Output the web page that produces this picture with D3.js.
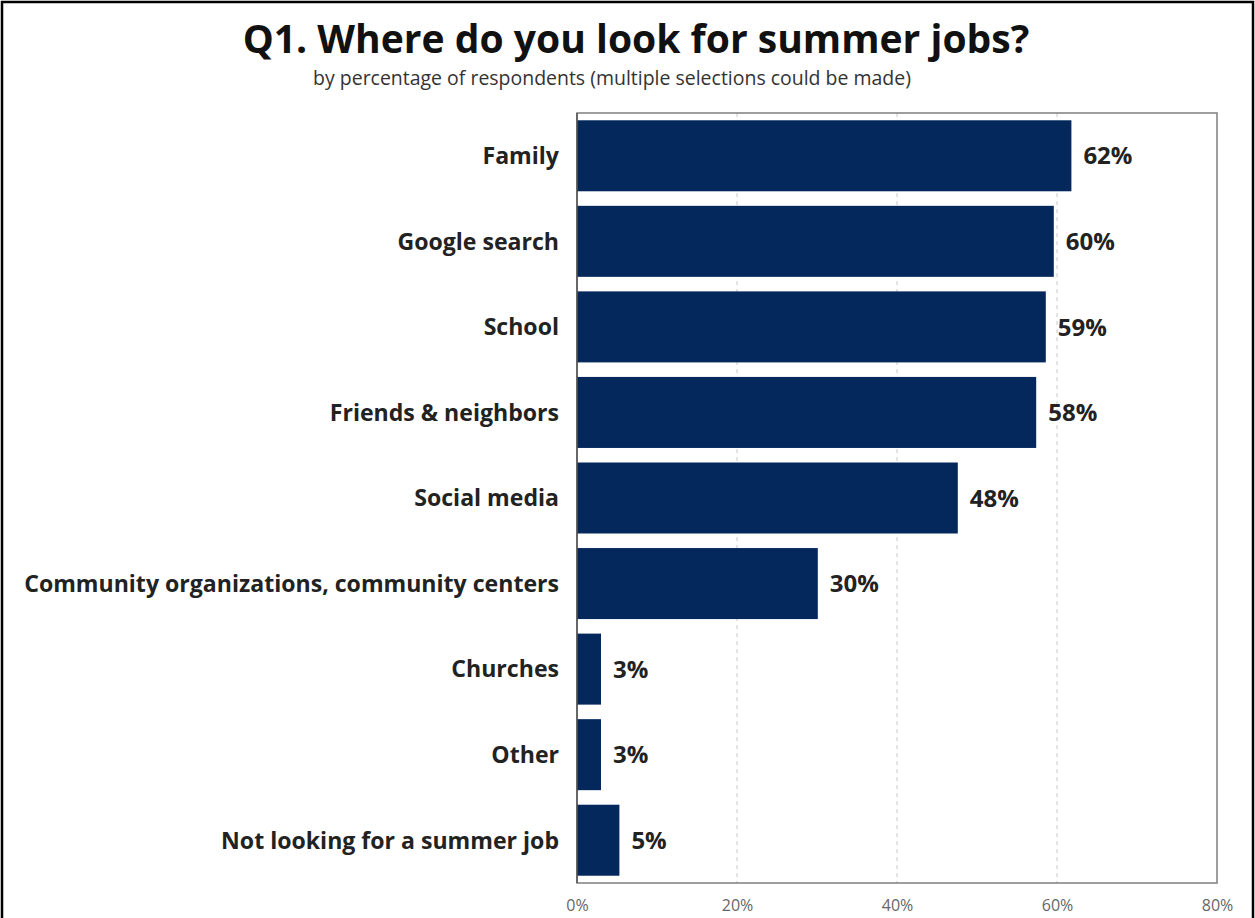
<!DOCTYPE html>
<html><head><meta charset="utf-8">
<script src="https://cdn.jsdelivr.net/npm/d3@7"></script>
<style>html,body{margin:0;padding:0;background:#fff;}svg{display:block;}</style>
</head><body>
<svg id="chart" width="1255" height="918"></svg>
<script>
const categories = ["Family","Google search","School","Friends & neighbors","Social media","Community organizations, community centers","Churches","Other","Not looking for a summer job"];
const values = [61.8, 59.6, 58.6, 57.4, 47.6, 30.1, 3.0, 3.0, 5.3];
const valueLabels = ["62%","60%","59%","58%","48%","30%","3%","3%","5%"];
const tickValues = [0, 20, 40, 60, 80];
const tickLabels = ["0%","20%","40%","60%","80%"];
const gridValues = [20, 40, 60];
const title = "Q1. Where do you look for summer jobs?";
const subtitle = "by percentage of respondents (multiple selections could be made)";

const svg = d3.select("#chart");
const W = 1255, H = 918;
const plot = {left: 577, right: 1217, top: 113, bottom: 883};
const font = "'Open Sans', sans-serif";

function fitWidth(sel, target) {
  const node = sel.node();
  const w = node.getComputedTextLength();
  const fs = parseFloat(sel.attr("font-size"));
  if (w > 0) sel.attr("font-size", fs * target / w);
}

// outer frame
svg.append("rect").attr("x", 2).attr("y", 2).attr("width", W - 4).attr("height", H + 20)
  .attr("fill", "none").attr("stroke", "#000").attr("stroke-width", 2.5);

const t = svg.append("text").attr("x", 636).attr("y", 53).attr("text-anchor", "middle")
  .attr("font-family", font).attr("font-weight", 700).attr("font-size", 34).attr("fill", "#111")
  .text(title);
fitWidth(t, 787);
const st = svg.append("text").attr("x", 612).attr("y", 85).attr("text-anchor", "middle")
  .attr("font-family", font).attr("font-size", 14).attr("fill", "#333")
  .text(subtitle);
fitWidth(st, 598);

const x = d3.scaleLinear().domain([0, 80]).range([plot.left, plot.right]);
const y = d3.scaleBand().domain(categories).range([plot.top, plot.bottom]).paddingInner(0.17).paddingOuter(0.085);

// gridlines
svg.append("g").selectAll("line").data(gridValues).join("line")
  .attr("x1", d => x(d)).attr("x2", d => x(d)).attr("y1", plot.top).attr("y2", plot.bottom)
  .attr("stroke", "#c8c8c8").attr("stroke-width", 1).attr("stroke-dasharray", "4,4");

// plot border
svg.append("rect").attr("x", plot.left).attr("y", plot.top)
  .attr("width", plot.right - plot.left).attr("height", plot.bottom - plot.top)
  .attr("fill", "none").attr("stroke", "#7f7f7f").attr("stroke-width", 1.5);

// bars
svg.append("g").selectAll("rect").data(values).join("rect")
  .attr("x", x(0)).attr("y", (d, i) => y(categories[i]))
  .attr("width", d => x(d) - x(0)).attr("height", y.bandwidth())
  .attr("fill", "#04285c");

// axis line at 0
svg.append("line").attr("x1", x(0)).attr("x2", x(0)).attr("y1", plot.top).attr("y2", plot.bottom)
  .attr("stroke", "#555").attr("stroke-width", 1.5);

// value labels
svg.append("g").selectAll("text").data(values).join("text")
  .attr("x", d => x(d) + 12).attr("y", (d, i) => y(categories[i]) + y.bandwidth() / 2)
  .attr("dy", "0.36em").attr("font-family", font).attr("font-weight", 700).attr("font-size", 24)
  .attr("fill", "#222").text((d, i) => valueLabels[i]);

// category labels
const cl = svg.append("g").selectAll("text").data(categories).join("text")
  .attr("x", 559).attr("y", d => y(d) + y.bandwidth() / 2)
  .attr("dy", "0.36em").attr("text-anchor", "end").attr("font-family", font).attr("font-weight", 700)
  .attr("font-size", 21).attr("fill", "#222").text(d => d);
const longest = cl.filter(d => d.startsWith("Community"));
const lw = longest.node().getComputedTextLength();
cl.attr("font-size", 21 * 535 / lw);

// x axis tick labels
const axis = d3.axisBottom(x).tickValues(tickValues).tickFormat((d, i) => tickLabels[i]).tickSize(0).tickPadding(17);
const gx = svg.append("g").attr("transform", `translate(0,${plot.bottom})`).call(axis);
gx.select(".domain").remove();
gx.selectAll("text").attr("font-family", font).attr("font-size", 16).attr("fill", "#666");
</script>
</body></html>
